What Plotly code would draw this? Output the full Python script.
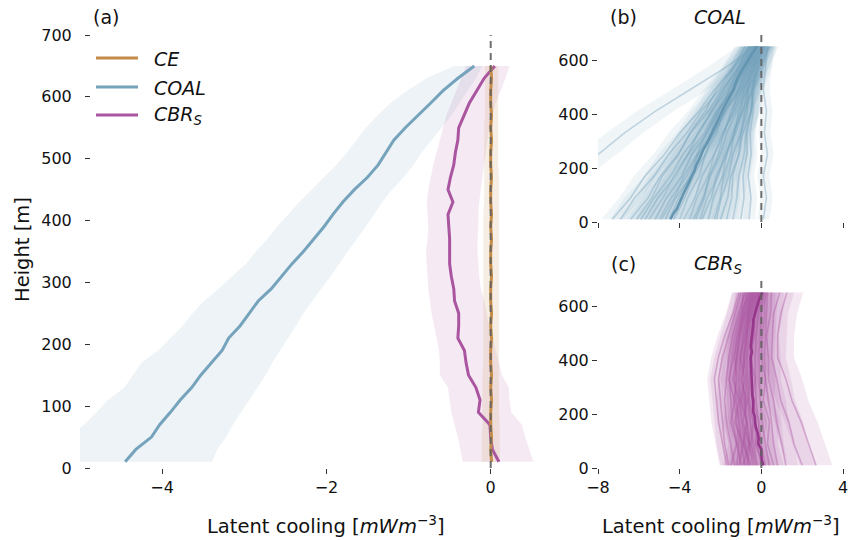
import plotly.graph_objects as go

# ---------------- data ----------------
H = [10, 30, 50, 70, 90, 110, 130, 150, 170, 190, 210, 230, 250, 270, 290, 310,
     330, 350, 370, 390, 410, 430, 450, 470, 490, 510, 530, 550, 570, 590, 610, 630, 650]

COAL_MEAN = [-4.45, -4.32, -4.13, -4.03, -3.90, -3.78, -3.64, -3.53, -3.40, -3.27, -3.19,
             -3.05, -2.94, -2.83, -2.67, -2.55, -2.42, -2.28, -2.15, -2.03, -1.92, -1.80,
             -1.66, -1.50, -1.37, -1.28, -1.18, -1.04, -0.88, -0.73, -0.58, -0.40, -0.20]
COAL_LO = [-5.5, -5.35, -5.15, -4.95, -4.8, -4.66, -4.46, -4.36, -4.25, -4.05, -3.9,
           -3.75, -3.63, -3.49, -3.31, -3.15, -2.98, -2.86, -2.72, -2.6, -2.47, -2.33,
           -2.18, -2.03, -1.88, -1.75, -1.64, -1.52, -1.38, -1.22, -1.02, -0.78, -0.45]
COAL_HI = [-3.39, -3.33, -3.22, -3.14, -3.03, -2.94, -2.84, -2.74, -2.66, -2.56, -2.47,
           -2.37, -2.28, -2.17, -2.06, -1.95, -1.84, -1.74, -1.63, -1.52, -1.42, -1.32,
           -1.2, -1.06, -0.94, -0.84, -0.72, -0.6, -0.48, -0.38, -0.28, -0.18, -0.1]

CBR_MEAN = [0.10, 0.02, 0.00, -0.01, -0.15, -0.13, -0.18, -0.27, -0.30, -0.32, -0.40,
            -0.39, -0.39, -0.44, -0.45, -0.48, -0.50, -0.50, -0.50, -0.51, -0.52, -0.46,
            -0.52, -0.49, -0.45, -0.43, -0.40, -0.39, -0.32, -0.26, -0.17, -0.08, 0.05]
CBR_LO = [-0.34, -0.37, -0.40, -0.44, -0.48, -0.50, -0.52, -0.62, -0.62, -0.63, -0.66,
          -0.69, -0.72, -0.74, -0.76, -0.77, -0.78, -0.79, -0.77, -0.76, -0.77, -0.78,
          -0.76, -0.73, -0.70, -0.66, -0.62, -0.58, -0.54, -0.48, -0.42, -0.36, -0.30]
CBR_HI = [0.52, 0.47, 0.42, 0.38, 0.25, 0.23, 0.22, 0.14, 0.10, 0.06, 0.03,
          -0.02, -0.05, -0.08, -0.12, -0.14, -0.15, -0.16, -0.16, -0.15, -0.15, -0.14,
          -0.12, -0.10, -0.08, -0.06, -0.04, -0.02, 0.02, 0.06, 0.12, 0.18, 0.23]

CE_MEAN = [0.01, 0.00, 0.01, 0.00, 0.00, 0.01, 0.00, 0.01, 0.00, 0.00, 0.01,
           0.00, 0.01, 0.00, 0.00, 0.01, 0.00, 0.00, 0.01, 0.00, 0.01, 0.00,
           0.00, 0.01, 0.00, 0.00, 0.01, 0.00, 0.01, 0.00, 0.00, 0.01, 0.00]
CE_LO = [-0.11, -0.11, -0.11, -0.10, -0.10, -0.10, -0.10, -0.10, -0.09, -0.09, -0.09,
         -0.09, -0.09, -0.09, -0.09, -0.09, -0.09, -0.09, -0.09, -0.09, -0.09, -0.08,
         -0.08, -0.08, -0.08, -0.08, -0.08, -0.08, -0.07, -0.07, -0.07, -0.07, -0.07]
CE_HI = [0.11, 0.11, 0.11, 0.11, 0.10, 0.10, 0.10, 0.10, 0.10, 0.10, 0.10,
         0.10, 0.10, 0.10, 0.10, 0.10, 0.10, 0.10, 0.10, 0.10, 0.10, 0.10,
         0.10, 0.10, 0.09, 0.09, 0.09, 0.09, 0.09, 0.09, 0.09, 0.09, 0.09]

# ensemble members (x values at the member heights)
HM = [10, 90, 170, 250, 330, 410, 490, 570, 650]

COAL_MEMBERS = [
    [-12.2, -10.8, -9.4, -8.0, -6.7, -5.2, -3.5, -1.8, -0.3],
    [-7.3, -6.4, -5.7, -4.75, -4.0, -3.05, -2.3, -1.4, -0.6],
    [-6.9, -6.2, -5.25, -4.55, -3.65, -2.95, -2.05, -1.35, -0.5],
    [-6.4, -5.55, -4.95, -4.1, -3.45, -2.6, -1.95, -1.1, -0.4],
    [-5.9, -5.25, -4.45, -3.85, -3.05, -2.45, -1.65, -1.05, -0.3],
    [-5.5, -4.8, -4.3, -3.6, -3.1, -2.4, -1.85, -1.15, -0.6],
    [-5.2, -4.65, -3.9, -3.4, -2.65, -2.15, -1.4, -0.9, -0.2],
    [-4.9, -4.25, -3.8, -3.15, -2.7, -2.05, -1.55, -0.9, -0.4],
    [-4.7, -4.2, -3.45, -3.0, -2.3, -1.8, -1.1, -0.65, 0.0],
    [-4.3, -3.75, -3.35, -2.75, -2.35, -1.75, -1.35, -0.75, -0.3],
    [-4.0, -3.6, -3.05, -2.75, -2.2, -1.85, -1.3, -1.0, -0.5],
    [-3.8, -3.25, -2.9, -2.3, -1.9, -1.3, -0.95, -0.35, 0.1],
    [-3.5, -3.15, -2.6, -2.3, -1.8, -1.5, -0.95, -0.65, -0.2],
    [-3.2, -2.8, -2.55, -2.1, -1.85, -1.4, -1.15, -0.7, -0.4],
    [-2.9, -2.45, -2.2, -1.7, -1.4, -0.9, -0.65, -0.15, 0.2],
    [-2.6, -2.35, -1.9, -1.7, -1.3, -1.1, -0.7, -0.45, -0.1],
    [-2.3, -2.0, -1.85, -1.5, -1.35, -1.0, -0.85, -0.5, -0.3],
    [-2.0, -1.65, -1.5, -1.1, -0.9, -0.5, -0.35, 0.05, 0.3],
    [-1.7, -1.45, -1.4, -1.1, -1.0, -0.7, -0.65, -0.35, -0.2],
    [-1.4, -1.2, -1.1, -0.85, -0.75, -0.5, -0.4, -0.15, 0.0],
    [-1.0, -0.85, -0.9, -0.7, -0.7, -0.5, -0.45, -0.2, -0.1],
    [0.1, 0.25, 0.1, 0.3, 0.15, 0.25, 0.1, 0.2, 0.3],
    [-6.1, -5.35, -4.85, -4.05, -3.5, -2.75, -2.2, -1.4, -0.8],
    [-3.0, -2.65, -2.1, -1.8, -1.25, -0.95, -0.4, -0.1, 0.4],
    [-5.0, -4.4, -3.65, -3.1, -2.35, -1.8, -1.05, -0.5, 0.2],
    [-2.2, -1.95, -1.6, -1.4, -1.0, -0.8, -0.45, -0.25, 0.1],
    [-4.5, -4.05, -3.5, -3.1, -2.5, -2.1, -1.55, -1.15, -0.6],
    [-3.3, -2.85, -2.5, -2.0, -1.7, -1.2, -0.85, -0.35, 0.0],
    [-0.6, -0.5, -0.65, -0.5, -0.55, -0.4, -0.45, -0.3, -0.3],
    [-5.7, -5.05, -4.2, -3.6, -2.8, -2.2, -1.4, -0.75, 0.0],
]
COAL_SPREAD = [0.9, 0.55, 0.5, 0.55, 0.5, 0.45, 0.5, 0.45, 0.5, 0.45, 0.45, 0.5, 0.45,
               0.45, 0.5, 0.45, 0.4, 0.45, 0.4, 0.4, 0.35, 0.3, 0.5, 0.45, 0.5, 0.4,
               0.45, 0.45, 0.3, 0.5]

CBR_MEMBERS = [
    [2.68, 2.3, 1.95, 1.5, 1.2, 0.8, 0.8, 0.95, 1.25],
    [2.0, 1.6, 1.35, 0.95, 0.75, 0.5, 0.55, 0.6, 0.9],
    [1.2, 1.0, 0.75, 0.6, 0.35, 0.35, 0.25, 0.45, 0.5],
    [0.8, 0.6, 0.5, 0.35, 0.2, 0.15, 0.2, 0.25, 0.3],
    [-1.6, -1.8, -1.9, -2.0, -2.1, -1.9, -1.6, -1.3, -1.0],
    [-1.3, -1.5, -1.7, -1.8, -1.7, -1.6, -1.4, -1.1, -0.8],
    [-1.0, -1.2, -1.4, -1.5, -1.55, -1.45, -1.3, -1.0, -0.6],
    [-0.8, -1.0, -1.1, -1.25, -1.3, -1.2, -1.05, -0.8, -0.5],
    [-0.6, -0.8, -0.95, -1.05, -1.1, -1.0, -0.9, -0.7, -0.4],
    [-0.4, -0.6, -0.75, -0.85, -0.9, -0.85, -0.75, -0.55, -0.3],
    [-0.2, -0.4, -0.55, -0.65, -0.7, -0.7, -0.6, -0.45, -0.2],
    [0.0, -0.2, -0.35, -0.45, -0.5, -0.5, -0.45, -0.3, -0.1],
    [0.2, 0.0, -0.15, -0.25, -0.3, -0.3, -0.25, -0.15, 0.0],
    [0.4, 0.2, 0.05, -0.05, -0.1, -0.1, -0.05, 0.0, 0.1],
    [-1.1, -0.9, -1.3, -1.1, -1.4, -1.2, -1.1, -0.9, -0.7],
    [-0.5, -0.9, -0.7, -1.0, -0.8, -1.05, -0.8, -0.6, -0.35],
    [-1.5, -1.2, -1.5, -1.3, -1.6, -1.35, -1.2, -0.95, -0.9],
    [0.1, -0.3, -0.1, -0.45, -0.3, -0.55, -0.35, -0.35, -0.05],
    [-0.9, -0.6, -0.9, -0.7, -1.0, -0.75, -0.7, -0.5, -0.25],
    [0.6, 0.3, 0.4, 0.1, 0.2, 0.0, 0.05, 0.15, 0.2],
    [-1.7, -1.9, -2.1, -2.2, -2.3, -2.1, -1.8, -1.4, -1.1],
    [-0.3, -0.5, -0.4, -0.6, -0.6, -0.55, -0.5, -0.35, -0.15],
    [-1.2, -1.1, -1.2, -1.35, -1.2, -1.3, -1.15, -0.85, -0.55],
    [-0.7, -0.55, -0.7, -0.8, -0.75, -0.85, -0.7, -0.65, -0.45],
]
CBR_SPREAD = [0.8, 0.7, 0.6, 0.5, 0.4, 0.4, 0.4, 0.4, 0.4, 0.4, 0.4, 0.4,
              0.4, 0.4, 0.4, 0.4, 0.4, 0.4, 0.4, 0.5, 0.35, 0.4, 0.4, 0.4]

X_TICKS_A = [-4, -2, 0]
Y_TICKS_A = [0, 100, 200, 300, 400, 500, 600, 700]
X_TICKS_BC = [-8, -4, 0, 4]
Y_TICKS_BC = [0, 200, 400, 600]

# ---------------- styling ----------------
FONT = "DejaVu Sans"
W, HGT = 849, 540
COAL_RGB = "118,163,188"
CBR_RGB = "170,85,160"
CE_RGB = "196,140,72"


def band(lo, hi, h, fill, xa, ya):
    return go.Scatter(x=list(lo) + list(hi)[::-1], y=list(h) + list(h)[::-1],
                      fill="toself", fillcolor=fill, mode="lines", line=dict(width=0),
                      hoverinfo="skip", showlegend=False, xaxis=xa, yaxis=ya)


def line(x, h, color, width, xa, ya):
    return go.Scatter(x=x, y=h, mode="lines", line=dict(color=color, width=width),
                      hoverinfo="skip", showlegend=False, xaxis=xa, yaxis=ya)


fig = go.Figure()

# panel (a)
fig.add_trace(band(COAL_LO, COAL_HI, H, f"rgba({COAL_RGB},0.13)", "x", "y"))
fig.add_trace(band(CBR_LO, CBR_HI, H, f"rgba({CBR_RGB},0.12)", "x", "y"))
fig.add_trace(band(CE_LO, CE_HI, H, f"rgba({CE_RGB},0.15)", "x", "y"))
fig.add_trace(line(COAL_MEAN, H, f"rgb({COAL_RGB})", 3, "x", "y"))
fig.add_trace(line(CBR_MEAN, H, f"rgb({CBR_RGB})", 3, "x", "y"))
fig.add_trace(line(CE_MEAN, H, f"rgb({CE_RGB})", 3, "x", "y"))

# panel (b)
for m, s in zip(COAL_MEMBERS, COAL_SPREAD):
    fig.add_trace(band([v - s for v in m], [v + s for v in m], HM,
                       f"rgba({COAL_RGB},0.11)", "x2", "y2"))
for m in COAL_MEMBERS:
    fig.add_trace(line(m, HM, f"rgba({COAL_RGB},0.4)", 1.6, "x2", "y2"))
fig.add_trace(line(COAL_MEAN, H, "rgb(100,150,178)", 2.6, "x2", "y2"))

# panel (c)
for m, s in zip(CBR_MEMBERS, CBR_SPREAD):
    fig.add_trace(band([v - s for v in m], [v + s for v in m], HM,
                       f"rgba({CBR_RGB},0.13)", "x3", "y3"))
for m in CBR_MEMBERS:
    fig.add_trace(line(m, HM, f"rgba({CBR_RGB},0.4)", 1.6, "x3", "y3"))
fig.add_trace(line(CBR_MEAN, H, "rgb(150,55,140)", 2.6, "x3", "y3"))

# zero reference lines
for xr, yr in (("x", "y"), ("x2", "y2"), ("x3", "y3")):
    fig.add_shape(type="line", xref=xr, yref=yr, x0=0, x1=0, y0=0, y1=700,
                  line=dict(color="rgba(95,95,95,0.9)", width=2, dash="7px,5px"),
                  layer="above")

axis_common = dict(showgrid=False, zeroline=False, showline=False, ticks="outside",
                   ticklen=5, tickwidth=1.3, tickcolor="#333", automargin=False,
                   tickfont=dict(family=FONT, size=16, color="#111"))

fig.update_layout(
    width=W, height=HGT, margin=dict(l=0, r=0, t=0, b=0, autoexpand=False),
    paper_bgcolor="white", plot_bgcolor="white", showlegend=False,
    font=dict(family=FONT, color="#111"),
    xaxis=dict(domain=[80 / W, 540 / W], range=[-5, 0.6], tickvals=X_TICKS_A,
               anchor="y", **axis_common),
    yaxis=dict(domain=[72 / HGT, 505 / HGT], range=[0, 700], tickvals=Y_TICKS_A,
               anchor="free", position=90 / W, ticklabelstandoff=10, **axis_common),
    xaxis2=dict(domain=[598 / W, 843 / W], range=[-8, 4], tickvals=X_TICKS_BC,
                showticklabels=False, anchor="y2", **axis_common),
    yaxis2=dict(domain=[318 / HGT, 507 / HGT], range=[0, 700], tickvals=Y_TICKS_BC,
                anchor="x2", **axis_common),
    xaxis3=dict(domain=[598 / W, 843 / W], range=[-8, 4], tickvals=X_TICKS_BC,
                anchor="y3", **axis_common),
    yaxis3=dict(domain=[72 / HGT, 261 / HGT], range=[0, 700], tickvals=Y_TICKS_BC,
                anchor="x3", **axis_common),
)


def px(x, y):
    return x / W, 1 - y / HGT


def text(x, y, s, size=19, xanchor="center", angle=0):
    xx, yy = px(x, y)
    fig.add_annotation(x=xx, y=yy, xref="paper", yref="paper", text=s, showarrow=False,
                       xanchor=xanchor, yanchor="middle", textangle=angle,
                       font=dict(family=FONT, size=size, color="#111"))


text(106, 17, "(a)")
text(623, 17, "(b)")
text(720, 17, "<i>COAL</i>")
text(623, 264, "(c)")
text(718, 264, "<i>CBR<sub>S</sub></i>")
text(22, 250, "Height [m]", size=19.5, angle=-90)
text(326, 525, "Latent cooling [<i>mWm</i><sup>−3</sup>]", size=19.5)
text(721, 525, "Latent cooling [<i>mWm</i><sup>−3</sup>]", size=19.5)

# legend (manual)
for yy, rgb, lab in ((58, CE_RGB, "<i>CE</i>"), (87, COAL_RGB, "<i>COAL</i>"),
                     (115, CBR_RGB, "<i>CBR<sub>S</sub></i>")):
    a, b = px(96, yy)
    c, _ = px(138, yy)
    fig.add_shape(type="line", xref="paper", yref="paper", x0=a, x1=c, y0=b, y1=b,
                  line=dict(color=f"rgb({rgb})", width=3))
    text(152, yy + 1, lab, xanchor="left")

fig.write_html("out.html")
